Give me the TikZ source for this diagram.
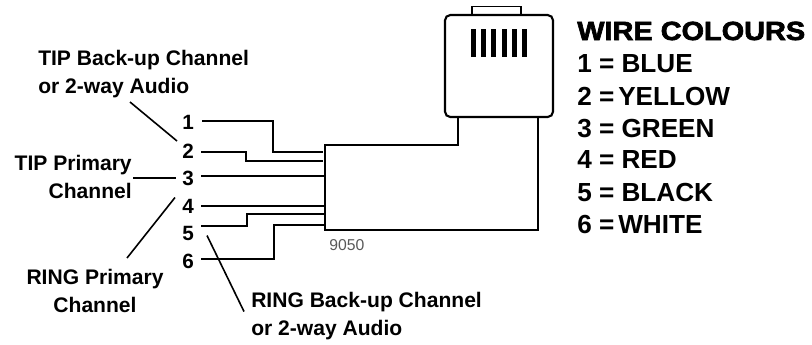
\documentclass[tikz,border=0pt]{standalone}
\usepackage{fontspec}
\setmainfont{Liberation Sans}
\newfontfamily\headfont[FakeBold=2.5,FakeStretch=1.1]{Liberation Sans}
\usetikzlibrary{calc}
\tikzset{
    wire/.style={line width=1.5pt},
    leader/.style={line width=1.2pt},
    outline/.style={line width=1.6pt},
    pin/.style={font=\bfseries\fontsize{15.5}{15.5}\selectfont, inner sep=0pt},
    callout/.style={font=\bfseries\fontsize{15.8}{21}\selectfont, inner sep=0pt},
    colourline/.style={font=\bfseries\fontsize{19.6}{19.6}\selectfont, inner sep=0pt, anchor=base west},
}

\begin{document}
\begin{tikzpicture}[x=0.75pt,y=-0.75pt]

    \useasboundingbox (0,0) rectangle (812,344);

    % plug
    \node[draw, line width=1pt, minimum width=36.75pt, minimum height=7pt, inner sep=0pt] (tab) at (496.5,11) {};
    \node[draw, outline, fill=white, rounded corners=4pt, minimum width=81pt, minimum height=76.5pt, inner sep=0pt] (plug) at (499,66) {};
    \foreach \barx in {473.5,483.5,493.5,504.5,514.5,524.5}
        \fill (\barx-2.5,29) rectangle (\barx+2.5,57);

    % body
    \coordinate (neckleft) at (458,116);
    \coordinate (neckright) at (538,116);
    \draw[outline] (neckleft) -- (458,145) -- (325,145) -- (325,230) -- (538,230) -- (neckright);

    % pins
    \node[pin] (n1) at (188,122) {1};
    \node[pin] (n2) at (188,151) {2};
    \node[pin] (n3) at (188,178) {3};
    \node[pin] (n4) at (188,206) {4};
    \node[pin] (n5) at (188,233) {5};
    \node[pin] (n6) at (188,261) {6};

    % wires
    \coordinate (w1) at (202,121);
    \coordinate (w2) at (201,152);
    \coordinate (w3) at (201,176);
    \coordinate (w4) at (201,205.5);
    \coordinate (w5) at (201,226);
    \coordinate (w6) at (201,259);
    \draw[wire] (w1) -- (273,121) -- (273,152) -- (323,152);
    \draw[wire] (w2) -- (246,152) -- (246,161) -- (323,161);
    \draw[wire] (w3) -- (325,176);
    \draw[wire] (w4) -- (325,205.5);
    \draw[wire] (w5) -- (247,226) -- (247,214) -- (325,214);
    \draw[wire] (w6) -- (274,259) -- (274,225) -- (325,225);

    \node[anchor=base west, inner sep=0pt, text=black!65, font=\fontsize{11.8}{12}\selectfont] (partno) at (329,250) {9050};

    % callouts
    \node[callout, anchor=west, align=left] (tipback) at (38,74) {TIP Back-up Channel\\or 2-way Audio};
    \node[callout, anchor=east, align=right] (tipprim) at (132,176.5) {TIP Primary\\Channel};
    \node[callout, align=center] (ringprim) at (95,291) {RING Primary\\Channel};
    \node[callout, anchor=west, align=left] (ringback) at (251,316.5) {RING Back-up Channel\\or 2-way Audio};

    \coordinate (a1) at (130,102);
    \coordinate (a2) at (177,141);
    \coordinate (b1) at (133,178);
    \coordinate (b2) at (176,178);
    \coordinate (c1) at (127,258);
    \coordinate (c2) at (175,197.5);
    \coordinate (d1) at (207,235.5);
    \coordinate (d2) at (244,311.5);
    \draw[leader] (a1) -- (a2);
    \draw[leader] (b1) -- (b2);
    \draw[leader] (c1) -- (c2);
    \draw[leader] (d1) -- (d2);

    % colour list
    \node[anchor=base west, inner sep=0pt, font=\headfont\bfseries\fontsize{19.7}{20}\selectfont] (head) at (577,40) {WIRE COLOURS};
    \node[colourline] (c1line) at (577,72) {1 = BLUE};
    \node[colourline] (c2line) at (577,105) {2 =\kern-2.5pt{} YELLOW};
    \node[colourline] (c3line) at (577,137) {3 = GREEN};
    \node[colourline] (c4line) at (577,168) {4 = RED};
    \node[colourline] (c5line) at (577,201) {5 = BLACK};
    \node[colourline] (c6line) at (577,233) {6 =\kern-2.5pt{} WHITE};

\end{tikzpicture}
\end{document}
